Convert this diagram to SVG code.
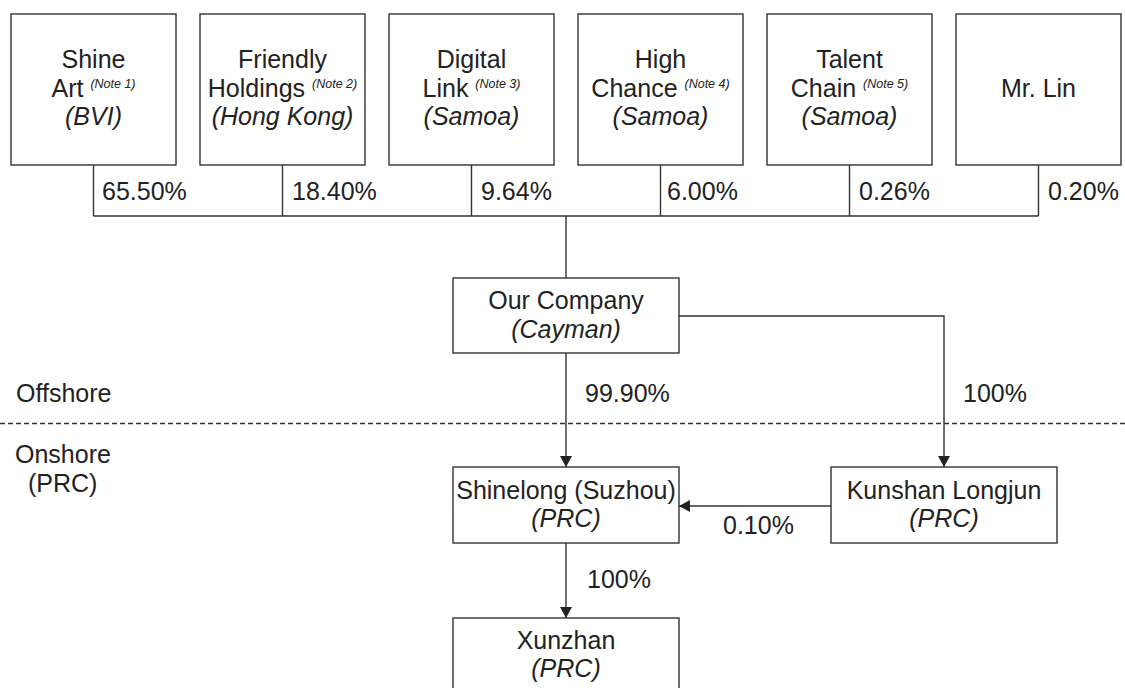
<svg xmlns="http://www.w3.org/2000/svg" width="1125" height="688" viewBox="0 0 1125 688">
<style>
.box{fill:#fff;stroke:#333;stroke-width:1.4}
.t{font-family:"Liberation Sans",Arial,sans-serif;font-size:25px;fill:#222}
.m{text-anchor:middle}
.i{font-style:italic}
.n{font-style:italic;font-size:12.5px}
.c{fill:none;stroke:#333;stroke-width:1.4}
.d{fill:none;stroke:#333;stroke-width:1.3;stroke-dasharray:5 3}
</style>
<defs>
<marker id="ah" markerUnits="userSpaceOnUse" markerWidth="12" markerHeight="12" refX="11" refY="6" orient="auto">
<path d="M0,0 L11,6 L0,12 z" fill="#222"/>
</marker>
</defs>
<rect width="1125" height="688" fill="#fff"/>

<g id="shine-art">
<rect class="box" x="11" y="14" width="165" height="151"/>
<text class="t m" x="93.5" y="68">Shine</text>
<text class="t m" x="93.5" y="97">Art <tspan class="n" dy="-9">(Note 1)</tspan></text>
<text class="t m i" x="93.5" y="125">(BVI)</text>
</g>
<g id="friendly-holdings">
<rect class="box" x="200" y="14" width="165" height="151"/>
<text class="t m" x="282.5" y="68">Friendly</text>
<text class="t m" x="282.5" y="97">Holdings <tspan class="n" dy="-9">(Note 2)</tspan></text>
<text class="t m i" x="282.5" y="125">(Hong Kong)</text>
</g>
<g id="digital-link">
<rect class="box" x="389" y="14" width="165" height="151"/>
<text class="t m" x="471.5" y="68">Digital</text>
<text class="t m" x="471.5" y="97">Link <tspan class="n" dy="-9">(Note 3)</tspan></text>
<text class="t m i" x="471.5" y="125">(Samoa)</text>
</g>
<g id="high-chance">
<rect class="box" x="578" y="14" width="165" height="151"/>
<text class="t m" x="660.5" y="68">High</text>
<text class="t m" x="660.5" y="97">Chance <tspan class="n" dy="-9">(Note 4)</tspan></text>
<text class="t m i" x="660.5" y="125">(Samoa)</text>
</g>
<g id="talent-chain">
<rect class="box" x="767" y="14" width="165" height="151"/>
<text class="t m" x="849.5" y="68">Talent</text>
<text class="t m" x="849.5" y="97">Chain <tspan class="n" dy="-9">(Note 5)</tspan></text>
<text class="t m i" x="849.5" y="125">(Samoa)</text>
</g>
<g id="mr-lin">
<rect class="box" x="956" y="14" width="165" height="151"/>
<text class="t m" x="1038.5" y="97">Mr. Lin</text>
</g>

<g id="our-company">
<rect class="box" x="453" y="278" width="226" height="75"/>
<text class="t m" x="566" y="309">Our Company</text>
<text class="t m i" x="566" y="338">(Cayman)</text>
</g>
<g id="shinelong">
<rect class="box" x="453" y="467" width="226" height="76"/>
<text class="t m" x="566" y="499">Shinelong (Suzhou)</text>
<text class="t m i" x="566" y="527">(PRC)</text>
</g>
<g id="kunshan-longjun">
<rect class="box" x="831" y="467" width="226" height="76"/>
<text class="t m" x="944" y="499">Kunshan Longjun</text>
<text class="t m i" x="944" y="527">(PRC)</text>
</g>
<g id="xunzhan">
<rect class="box" x="453" y="618" width="226" height="76"/>
<text class="t m" x="566" y="649">Xunzhan</text>
<text class="t m i" x="566" y="677">(PRC)</text>
</g>

<g id="connectors">
<path class="c" d="M93.5,165 V216 M282.5,165 V216 M471.5,165 V216 M660.5,165 V216 M849.5,165 V216 M1038.5,165 V216 M93.5,216 H1038.5 M566,216 V278"/>
<path class="c" d="M566,353 V467" marker-end="url(#ah)"/>
<path class="c" d="M679,316 H944 V467" marker-end="url(#ah)"/>
<path class="c" d="M831,506 H679" marker-end="url(#ah)"/>
<path class="c" d="M566,543 V618" marker-end="url(#ah)"/>
</g>

<g id="labels">
<text class="t" x="102" y="200">65.50%</text>
<text class="t" x="292" y="200">18.40%</text>
<text class="t" x="481" y="200">9.64%</text>
<text class="t" x="667" y="200">6.00%</text>
<text class="t" x="859" y="200">0.26%</text>
<text class="t" x="1048" y="200">0.20%</text>
<text class="t" x="585" y="402">99.90%</text>
<text class="t" x="963" y="402">100%</text>
<text class="t" x="723" y="534">0.10%</text>
<text class="t" x="587" y="588">100%</text>
</g>

<g id="regions">
<line class="d" x1="0" y1="423.5" x2="1125" y2="423.5"/>
<text class="t" x="16" y="402">Offshore</text>
<text class="t" x="15" y="463">Onshore</text>
<text class="t" x="28" y="492">(PRC)</text>
</g>
</svg>
